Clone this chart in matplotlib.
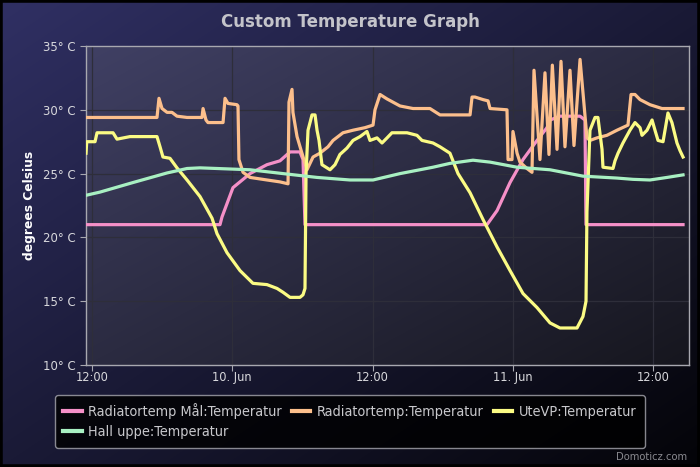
import numpy as np
import matplotlib
matplotlib.use("Agg")
import matplotlib.pyplot as plt

# ---------------- data (hours since 9 Jun 12:00) ----------------
tick_pos = [0, 12, 24, 36, 48]
tick_labels = ["12:00", "10. Jun", "12:00", "11. Jun", "12:00"]
y_ticks = [10, 15, 20, 25, 30, 35]
y_tick_labels = ["10° C", "15° C", "20° C", "25° C", "30° C", "35° C"]

series_names = ["Radiatortemp Mål:Temperatur", "Radiatortemp:Temperatur",
                "UteVP:Temperatur", "Hall uppe:Temperatur"]
series_colors = ["#f590c8", "#fcbf8c", "#fbfb84", "#a8f0c2"]

mal_t = [-0.51, 10.95, 11.12, 12.06, 13.52, 14.97, 16.08, 16.94, 17.79, 18.05, 18.22,
         33.79, 34.65, 35.76, 36.87, 38.07, 38.92, 39.18, 40.03, 41.75, 42.17, 42.26, 50.56]
mal_v = [21.0, 21.0, 21.6, 23.9, 25.0, 25.7, 26.0, 26.7, 26.7, 26.1, 21.0,
         21.0, 22.1, 24.3, 26.1, 27.6, 28.6, 29.2, 29.5, 29.5, 29.2, 21.0, 21.0]

rad_t = [-0.51, 5.56, 5.73, 5.99, 6.42, 6.84, 7.27, 8.13, 9.41, 9.50, 9.75, 9.92, 11.21,
         11.38, 11.63, 12.40, 12.49, 12.57, 12.92, 13.52, 14.97, 16.08, 16.77, 16.85, 17.11,
         17.19, 17.54, 17.96, 18.39, 18.91, 19.50, 20.19, 20.62, 21.47, 22.33, 23.35, 24.04,
         24.21, 24.64, 25.24, 26.35, 27.46, 28.91, 29.51, 29.77, 32.34, 32.51, 32.76, 33.45,
         33.88, 34.05, 35.50, 35.59, 35.93, 36.01, 36.36, 36.61, 37.21, 37.64, 37.81, 38.32,
         38.75, 39.09, 39.38, 39.78, 40.12, 40.46, 40.89, 41.23, 41.75, 42.34, 42.60, 43.20,
         44.05, 44.91, 45.85, 46.11, 46.45, 46.88, 47.73, 48.76, 50.56]
rad_v = [29.4, 29.4, 30.9, 30.1, 29.8, 29.8, 29.5, 29.4, 29.4, 30.1, 29.2, 29.0, 29.0,
         30.9, 30.5, 30.4, 30.3, 26.1, 25.1, 24.7, 24.5, 24.35, 24.2, 30.6, 31.6,
         29.8, 27.9, 26.6, 25.3, 26.3, 26.6, 27.1, 27.6, 28.2, 28.4, 28.6, 28.8,
         30.0, 31.2, 30.85, 30.3, 30.1, 30.1, 29.75, 29.6, 29.6, 31.0, 31.0, 30.8,
         30.7, 30.1, 30.0, 26.1, 26.1, 28.3, 26.6, 25.9, 25.4, 25.1, 33.1, 26.1,
         32.9, 26.5, 33.5, 26.9, 33.8, 27.1, 33.1, 27.2, 33.95, 27.8, 27.6, 27.8,
         28.0, 28.4, 28.8, 31.2, 31.2, 30.8, 30.4, 30.1, 30.1]

ute_t = [-0.51, -0.45, 0.26, 0.43, 1.80, 2.14, 3.25, 5.56, 5.82, 6.07, 6.67, 7.27, 8.13,
         9.24, 10.27, 10.69, 11.55, 12.66, 13.77, 14.97, 15.83, 16.34, 16.94, 17.79, 18.05,
         18.22, 18.31, 18.48, 18.82, 19.08, 19.25, 19.42, 19.67, 20.36, 20.79, 21.21, 21.81,
         22.33, 22.93, 23.52, 23.78, 24.38, 24.81, 25.24, 25.66, 26.95, 27.80, 28.23, 29.17,
         29.77, 30.62, 31.31, 32.34, 33.45, 34.65, 35.76, 36.87, 38.07, 39.18, 40.03, 41.49,
         42.00, 42.26, 42.34, 42.60, 43.03, 43.28, 43.63, 43.71, 44.57, 44.74, 45.00, 45.42,
         46.02, 46.45, 46.88, 47.05, 47.48, 47.91, 48.16, 48.42, 48.85, 49.27, 49.61, 50.04,
         50.30, 50.56]
ute_v = [26.6, 27.5, 27.5, 28.2, 28.2, 27.7, 27.9, 27.9, 27.1, 26.3, 26.2, 25.45, 24.5,
         23.2, 21.5, 20.3, 18.8, 17.4, 16.4, 16.3, 16.0, 15.7, 15.3, 15.3, 15.5,
         16.0, 25.0, 28.4, 29.6, 29.6, 28.4, 27.6, 25.7, 25.3, 25.7, 26.5, 27.0,
         27.6, 27.9, 28.3, 27.6, 27.8, 27.4, 27.8, 28.2, 28.2, 28.0, 27.6, 27.4,
         27.1, 26.6, 25.0, 23.5, 21.4, 19.25, 17.4, 15.6, 14.5, 13.3, 12.9, 12.9,
         13.8, 15.0, 22.0, 28.4, 29.4, 29.4, 26.9, 25.5, 25.4, 26.0, 26.6, 27.4,
         28.4, 29.0, 28.6, 28.0, 28.4, 29.2, 28.4, 27.6, 27.5, 29.75, 29.0, 27.4,
         26.8, 26.3]

hall_t = [-0.51, 0.68, 3.51, 6.42, 8.13, 9.24, 10.69, 13.52, 16.34, 19.25, 22.07, 24.04,
          26.35, 29.17, 30.62, 32.59, 34.05, 36.36, 39.18, 42.00, 44.91, 46.28, 47.73,
          49.19, 50.56]
hall_v = [23.3, 23.55, 24.3, 25.05, 25.4, 25.45, 25.4, 25.3, 25.0, 24.7, 24.5, 24.5,
          25.0, 25.5, 25.8, 26.05, 25.9, 25.5, 25.3, 24.8, 24.65, 24.55, 24.5,
          24.7, 24.9]

W, H = 700, 467
fig = plt.figure(figsize=(W / 100, H / 100), dpi=100)
COND = dict(family="DejaVu Sans", stretch="condensed")


def gradient(c0, c1, n=200):
    xx, yy = np.meshgrid(np.linspace(0, 1, n), np.linspace(0, 1, n))
    t = (xx + yy) / 2.0
    c0 = np.array(c0) / 255.0
    c1 = np.array(c1) / 255.0
    return c0[None, None, :] * (1 - t[..., None]) + c1[None, None, :] * t[..., None]


# figure background
bg = fig.add_axes([0, 0, 1, 1], zorder=-10)
bg.imshow(gradient((48, 48, 100), (4, 4, 8)), extent=[0, 1, 0, 1], aspect="auto",
          interpolation="bilinear")
bg.set_xlim(0, 1)
bg.set_ylim(0, 1)
bg.axis("off")
bg.add_patch(plt.Rectangle((0, 0), 1, 1, fill=False, edgecolor="black", lw=4,
                           transform=bg.transAxes))

left, right, top, bottom = 86, 689, 46, 365
ax = fig.add_axes([left / W, 1 - bottom / H, (right - left) / W, (bottom - top) / H])
ax.set_facecolor("none")
ax.imshow(gradient((64, 64, 100), (22, 22, 30)), extent=[0, 1, 0, 1],
          transform=ax.transAxes, aspect="auto", zorder=0, interpolation="bilinear")

lw = 2.3
lines = []
for tt, vv, c, name in zip([mal_t, rad_t, ute_t, hall_t], [mal_v, rad_v, ute_v, hall_v],
                           series_colors, series_names):
    ln, = ax.plot(tt, vv, color=c, lw=lw, label=name, zorder=3, solid_joinstyle="round")
    lines.append(ln)

ax.set_xlim(-0.513, 51.07)
ax.set_ylim(10, 35)
ax.set_xticks(tick_pos)
ax.set_xticklabels(tick_labels, fontsize=9.2, **COND)
ax.set_yticks(y_ticks)
ax.set_yticklabels(y_tick_labels, fontsize=8.5)
ax.grid(True, color="#2e2e3a", lw=0.9, zorder=1)
for s in ax.spines.values():
    s.set_color("#a8a8b0")
    s.set_linewidth(1.0)
ax.tick_params(axis="both", colors="#a8a8b0", labelcolor="#d8d8dc",
               length=4, width=0.8)
ax.tick_params(axis="x", pad=0.5)
ax.set_ylabel("degrees Celsius", color="white", fontsize=8.8, fontweight="bold", labelpad=5)

fig.text(0.5, 1 - 22 / H, "Custom Temperature Graph", ha="center", va="center",
         fontsize=12, fontweight="bold", color="#c4c4ca")

order = [0, 3, 1, 2]
leg = ax.legend([lines[i] for i in order], [series_names[i] for i in order], ncol=3,
                loc="upper left", bbox_to_anchor=(55 / W, 1 - 395 / H),
                bbox_transform=fig.transFigure, borderaxespad=0, labelcolor="#c8c8cc",
                prop=dict(family="DejaVu Sans", stretch="condensed", size=10.35),
                frameon=True, fancybox=True, handlelength=1.27, handletextpad=0.45,
                columnspacing=0.72, borderpad=0.58, labelspacing=0.42)
fr = leg.get_frame()
fr.set_facecolor((0, 0, 0, 0.12))
fr.set_edgecolor("#a8a8b0")
fr.set_linewidth(1.0)
for h in leg.legend_handles:
    h.set_linewidth(3)

fig.text(687 / W, 1 - 457 / H, "Domoticz.com", ha="right", va="center", fontsize=8,
         color="#8a8a90", **COND)

fig.savefig("out.png", dpi=100)
